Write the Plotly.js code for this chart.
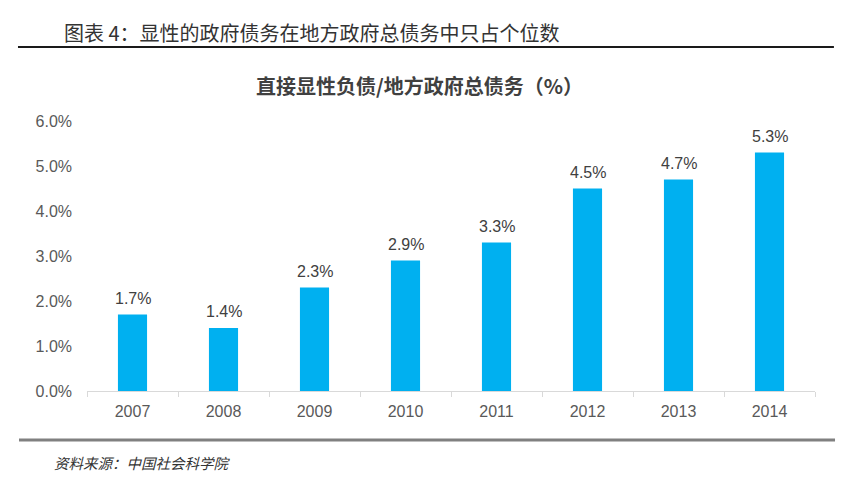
<!DOCTYPE html>
<html>
<head>
<meta charset="utf-8">
<script src="https://cdn.plot.ly/plotly-3.0.1.min.js"></script>
<style>html,body{margin:0;padding:0;background:#fff;}#chart{width:855px;height:483px;}</style>
</head>
<body>
<div id="chart"></div>
<script>
const years = ["2007","2008","2009","2010","2011","2012","2013","2014"];
const shareValues = [1.7, 1.4, 2.3, 2.9, 3.3, 4.5, 4.7, 5.3];
const yTickValues = [0, 1, 2, 3, 4, 5, 6];

const headerText = "图表 4：显性的政府债务在地方政府总债务中只占个位数";
const chartTitle = "直接显性负债/地方政府总债务（%）";
const sourceText = "资料来源：中国社会科学院";

const cjk = "'Noto Sans CJK SC', 'Noto Sans', sans-serif";
const latin = "Arial, 'Liberation Sans', 'Noto Sans CJK SC', sans-serif";

const trace = {
  type: "bar",
  x: years,
  y: shareValues,
  marker: {color: "#00B0F0"},
  width: 0.32,
  hoverinfo: "x+y"
};

// value labels placed at each category index (category axes index 0..n-1)
const valueLabels = years.map((yr, i) => ({
  text: shareValues[i].toFixed(1) + "%",
  x: i, y: shareValues[i], xref: "x", yref: "y",
  xanchor: "center", yanchor: "bottom", yshift: 6,
  showarrow: false,
  font: {family: latin, size: 16, color: "#404040"}
}));

const layout = {
  width: 855,
  height: 483,
  margin: {l: 87, r: 40, t: 121, b: 92},
  paper_bgcolor: "#ffffff",
  plot_bgcolor: "#ffffff",
  showlegend: false,
  xaxis: {
    type: "category",
    categoryorder: "array",
    categoryarray: years,
    range: [-0.5, years.length - 0.5],
    autorange: false,
    showgrid: false,
    showline: true,
    linecolor: "#d9d9d9",
    linewidth: 1,
    ticks: "outside",
    tickson: "boundaries",
    ticklen: 5,
    tickcolor: "#d9d9d9",
    ticklabelstandoff: 6,
    tickfont: {family: latin, size: 16, color: "#595959"},
    zeroline: false
  },
  yaxis: {
    range: [0, 6],
    autorange: false,
    tickvals: yTickValues,
    ticktext: yTickValues.map(v => v.toFixed(1) + "%"),
    showgrid: false,
    showline: false,
    zeroline: false,
    ticks: "",
    ticklabelstandoff: 14,
    tickfont: {family: latin, size: 16, color: "#595959"}
  },
  annotations: valueLabels.concat([
    {text: headerText, xref: "paper", yref: "paper", x: -0.0343, y: 1.326,
     xanchor: "left", yanchor: "middle", showarrow: false,
     font: {family: cjk, size: 20, color: "#333333"}},
    {text: "<b>" + chartTitle + "</b>", xref: "paper", yref: "paper", x: 0.457, y: 1.13,
     xanchor: "center", yanchor: "middle", showarrow: false,
     font: {family: cjk, size: 20, color: "#404040"}},
    {text: "<i>" + sourceText + "</i>", xref: "paper", yref: "paper", x: -0.048, y: -0.263,
     xanchor: "left", yanchor: "middle", showarrow: false,
     font: {family: cjk, size: 14.5, color: "#333333"}}
  ]),
  shapes: [
    {type: "line", xref: "paper", yref: "paper", x0: -0.0948, x1: 1.026, y0: 1.274, y1: 1.274,
     line: {color: "#1a1a1a", width: 2}},
    {type: "line", xref: "paper", yref: "paper", x0: -0.0934, x1: 1.0275, y0: -0.1815, y1: -0.1815,
     line: {color: "#808080", width: 3}}
  ]
};

Plotly.newPlot("chart", [trace], layout, {displayModeBar: false, staticPlot: true});
</script>
</body>
</html>
